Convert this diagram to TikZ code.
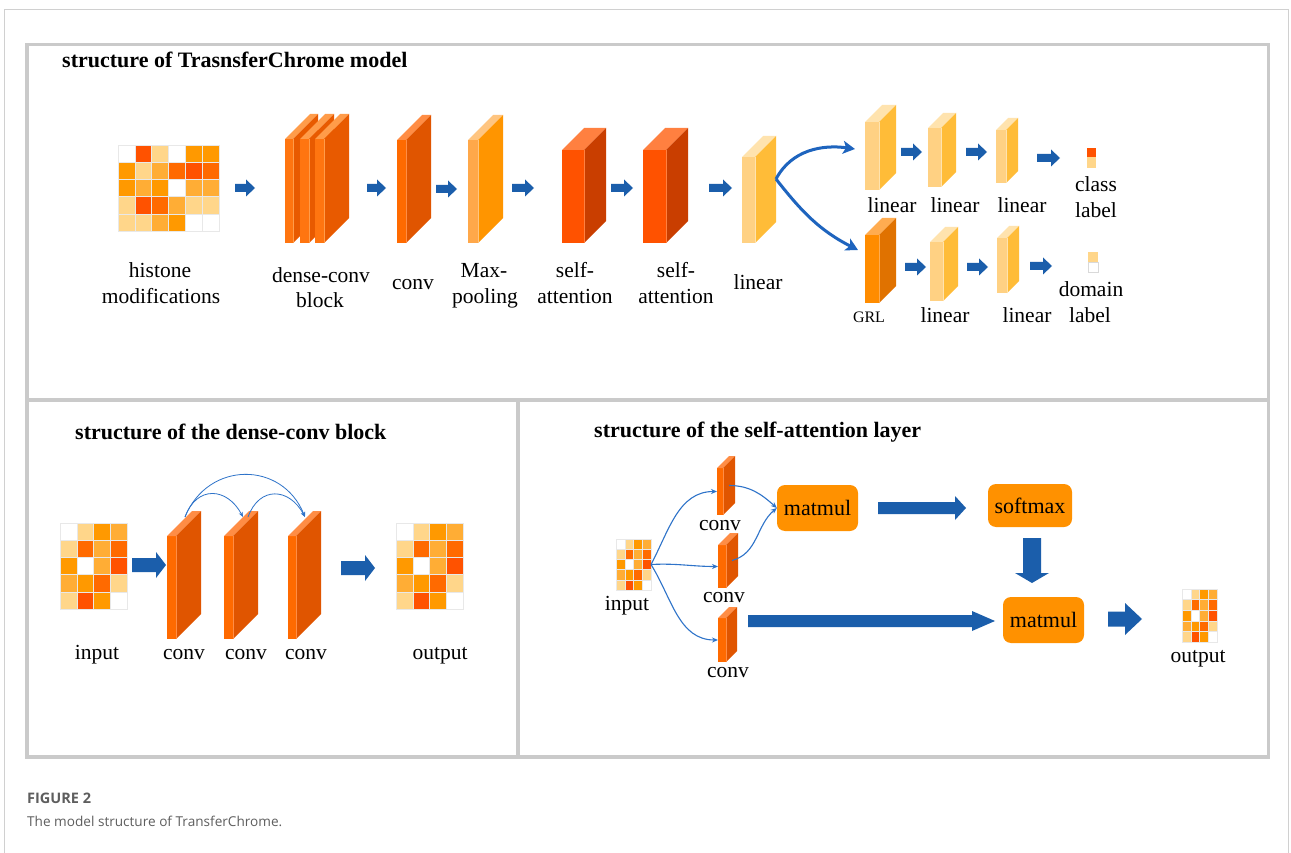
\documentclass[tikz,border=0pt]{standalone}
\usepackage{fontspec}
\setmainfont{Liberation Serif}
\newfontfamily\capfont{Open Sans}
\usetikzlibrary{calc,arrows.meta}

% frame and connector colours
\definecolor{panelgray}{HTML}{CACACA}
\definecolor{cardgray}{HTML}{D0D0D0}
\definecolor{arrowblue}{HTML}{1B5EAB}
\definecolor{linkblue}{HTML}{2E73C9}
\definecolor{branchblue}{HTML}{1E64BE}
\definecolor{boxorange}{HTML}{FF9100}
\definecolor{capgray}{HTML}{5E5E5E}
% layer colours: F = front face, T = top face, S = side face
\definecolor{denseF}{HTML}{FF7510}\definecolor{denseT}{HTML}{FF9C4A}\definecolor{denseS}{HTML}{E85A00}
\definecolor{convF}{HTML}{FF6A00}\definecolor{convT}{HTML}{FF8D45}\definecolor{convS}{HTML}{E05500}
\definecolor{poolF}{HTML}{FFA84A}\definecolor{poolT}{HTML}{FFC580}\definecolor{poolS}{HTML}{FF9500}
\definecolor{attF}{HTML}{FF5200}\definecolor{attT}{HTML}{FF8040}\definecolor{attS}{HTML}{C93E00}
\definecolor{linF}{HTML}{FFD183}\definecolor{linT}{HTML}{FFE3AE}\definecolor{linS}{HTML}{FFBC38}
\definecolor{grlF}{HTML}{FF8C00}\definecolor{grlT}{HTML}{FFAC50}\definecolor{grlS}{HTML}{E07200}
% heat-map cell colours
\definecolor{hmW}{HTML}{FFFFFF}
\definecolor{hmL}{HTML}{FFD68A}
\definecolor{hmM}{HTML}{FFAD35}
\definecolor{hmO}{HTML}{FF9900}
\definecolor{hmR}{HTML}{FF6A00}
\definecolor{hmD}{HTML}{FF5200}

% a 3-D layer block: name, x, y (front top-left), front width, height, depth, colour set
\newcommand\slab[7]{%
  \fill[#7F] (#2,#3) rectangle ({#2+#4},{#3+#5});
  \fill[#7T] (#2,#3) -- ({#2+#4},#3) -- ({#2+#4+#6},{#3-#6}) -- ({#2+#6},{#3-#6}) -- cycle;
  \fill[#7S] ({#2+#4},#3) -- ({#2+#4+#6},{#3-#6}) -- ({#2+#4+#6},{#3+#5-#6}) -- ({#2+#4},{#3+#5}) -- cycle;
  \draw[#7T, line width=0.6pt] ({#2+#4},#3) -- ({#2+#4},{#3+#5});
  \coordinate (#1-w) at (#2,{#3+#5/2});
  \coordinate (#1-e) at ({#2+#4+#6/2},{#3+(#5-#6)/2});
  \coordinate (#1-r) at ({#2+#4+#6},{#3+#5/2-#6});
  \coordinate (#1-top) at ({#2+(#4+#6)/2},{#3-#6/2});
}
% a heat map: name, x, y, cell width, cell height, columns, rows, cell colour rows
\newcommand\heat[8]{%
  \foreach \row [count=\r from 0] in {#8} {
    \foreach \c [count=\k from 0] in \row {
      \path[fill=hm\c, draw=black!9, line width=0.4pt] ({#2+\k*#4},{#3+\r*#5}) rectangle ++(#4,#5);
    }
  }
  \coordinate (#1-e) at ({#2+#6*#4},{#3+#7*#5/2});
}
% block arrows: from, to, shaft half width, head half width, head length
\newcommand\harrow[5]{%
  \fill[arrowblue] ($(#1)+(0,-#3)$) -- ($(#2)+(-#5,-#3)$) -- ($(#2)+(-#5,-#4)$) -- (#2)
    -- ($(#2)+(-#5,#4)$) -- ($(#2)+(-#5,#3)$) -- ($(#1)+(0,#3)$) -- cycle;}
\newcommand\varrow[5]{%
  \fill[arrowblue] ($(#1)+(-#3,0)$) -- ($(#2)+(-#3,-#5)$) -- ($(#2)+(-#4,-#5)$) -- (#2)
    -- ($(#2)+(#4,-#5)$) -- ($(#2)+(#3,-#5)$) -- ($(#1)+(#3,0)$) -- cycle;}

\begin{document}
\begin{tikzpicture}[x=1pt,y=-1pt,
  lbl/.style={font=\fontsize{21.5}{26}\selectfont, inner sep=0pt, anchor=base},
  small/.style={font=\fontsize{16}{19}\selectfont, inner sep=0pt, anchor=base},
  ttl/.style={font=\bfseries\fontsize{22}{26}\selectfont, inner sep=0pt, anchor=base west},
  opbox/.style={fill=boxorange, rounded corners=8pt, inner sep=0pt, font=\fontsize{22}{26}\selectfont},
  panel/.style={draw=panelgray, line width=3.5pt},
  link/.style={draw=linkblue, line width=1.1pt, -{Stealth[length=6pt,width=5pt]}},
  skip/.style={draw=linkblue, line width=0.8pt, -{Stealth[length=5pt,width=4pt]}},
  branch/.style={draw=branchblue, line width=3pt, -{Stealth[length=12pt,width=13pt,inset=3pt]}},
]
\useasboundingbox (0,0) rectangle (1291,853);
\fill[white] (0,0) rectangle (1291,853);

% card outline and panels
\draw[cardgray, line width=1.2pt] (4.5,853) -- (4.5,9.5) -- (1288.5,9.5) -- (1288.5,853);
\draw[panel] (27,44.5) rectangle (1268.5,757);
\draw[panel] (27,400) -- (1268.5,400);
\draw[panel] (518,400) -- (518,757);

% ---------------- TransferChrome model ----------------
\node[ttl] (title1) at (62,68) {structure of TrasnsferChrome model};

\heat{hist}{118}{145}{16.8}{17.2}{6}{5}{{W,D,L,W,O,O},{O,L,M,R,D,R},{O,M,O,W,M,M},{L,D,R,M,L,L},{L,L,M,O,W,W}}
\node[lbl] (histA) at (160,278) {histone};
\node[lbl] (histB) at (161,304) {modifications};

\slab{dc1}{285}{139}{8}{104}{25}{dense}
\slab{dc2}{300}{139}{9}{104}{25}{dense}
\slab{dc3}{315}{139}{9}{104}{25}{dense}
\node[lbl] (dcA) at (321,283) {dense-conv};
\node[lbl] (dcB) at (320,308) {block};

\slab{cv}{397}{140}{9}{103}{25}{conv}
\node[lbl] (cvL) at (413,290) {conv};
\slab{mp}{468}{140}{10}{103}{25}{pool}
\node[lbl] (mpA) at (484,277) {Max-};
\node[lbl] (mpB) at (485,303) {pooling};
\slab{sa1}{562}{150}{22}{93}{22}{att}
\node[lbl] (saA1) at (575,277) {self-};
\node[lbl] (saB1) at (575,303) {attention};
\slab{sa2}{643}{150}{23}{93}{22}{att}
\node[lbl] (saA2) at (676,277) {self-};
\node[lbl] (saB2) at (676,303) {attention};
\slab{lin}{742}{157}{13}{86}{21}{lin}
\node[lbl] (linL) at (758,290) {linear};

% pipeline arrows
\coordinate (p1s) at (235,188); \coordinate (p1e) at (255,188);
\coordinate (p2s) at (367,188); \coordinate (p2e) at (386,188);
\coordinate (p3s) at (436,189); \coordinate (p3e) at (457,189);
\coordinate (p4s) at (512,188); \coordinate (p4e) at (534,188);
\coordinate (p5s) at (611,188); \coordinate (p5e) at (633,188);
\coordinate (p6s) at (709,188); \coordinate (p6e) at (732,188);
\foreach \a in {p1,p2,p3,p4,p5,p6} {\harrow{\a s}{\a e}{4}{8.5}{9}}

% class branch
\coordinate (brU) at (855,149);
\coordinate (brL) at (858,250);
\draw[branch] (lin-r) to[out=62,in=172] (brU);
\draw[branch] (lin-r) to[out=-52,in=153] (brL);

\slab{la}{865}{122}{14}{68}{17}{lin}
\slab{lb}{928}{128}{13}{59}{15}{lin}
\slab{lc}{996}{130}{10}{53}{12}{lin}
\node[lbl] (laL) at (892,213) {linear};
\node[lbl] (lbL) at (955,213) {linear};
\node[lbl] (lcL) at (1022,213) {linear};
\coordinate (u1s) at (901,152); \coordinate (u1e) at (922,152);
\coordinate (u2s) at (966,152); \coordinate (u2e) at (987,152);
\coordinate (u3s) at (1037,158); \coordinate (u3e) at (1060,158);
\foreach \a in {u1,u2,u3} {\harrow{\a s}{\a e}{4}{8.5}{9}}
\fill[hmD] (1087,148) rectangle (1096,157);
\fill[hmL] (1087,157) rectangle (1096,168);
\node[lbl] (clsA) at (1096,192) {class};
\node[lbl] (clsB) at (1096,218) {label};

% domain branch
\slab{grl}{865}{235}{14}{68}{17}{grl}
\slab{ld}{930}{242}{13}{59}{15}{lin}
\slab{le}{997}{238}{10}{55}{12}{lin}
\node[small] (grlL) at (869,322) {GRL};
\node[lbl] (ldL) at (945,322) {linear};
\node[lbl] (leL) at (1027,322) {linear};
\coordinate (d1s) at (905,267); \coordinate (d1e) at (926,267);
\coordinate (d2s) at (967,267); \coordinate (d2e) at (988,267);
\coordinate (d3s) at (1030,266); \coordinate (d3e) at (1052,266);
\foreach \a in {d1,d2,d3} {\harrow{\a s}{\a e}{4}{8.5}{9}}
\fill[hmL] (1088,252) rectangle (1098,262);
\path[fill=white, draw=black!15, line width=0.5pt] (1088,262) rectangle (1098,272);
\node[lbl] (domA) at (1091,297) {domain};
\node[lbl] (domB) at (1090,323) {label};

% ---------------- dense-conv block ----------------
\node[ttl] (title2) at (75,439) {structure of the dense-conv block};
\heat{bin}{60}{523}{16.8}{17.2}{4}{5}{{W,L,O,M},{L,R,M,R},{O,W,M,D},{M,O,R,L},{L,D,O,W}}
\heat{bout}{396}{523}{16.8}{17.2}{4}{5}{{W,L,O,M},{L,R,M,R},{O,W,M,D},{M,O,R,L},{L,D,O,W}}
\slab{bc1}{167}{536}{9}{103}{25}{conv}
\slab{bc2}{224}{536}{9}{103}{25}{conv}
\slab{bc3}{288}{536}{8}{103}{25}{conv}
\coordinate (b1s) at (132,565); \coordinate (b1e) at (166,565);
\coordinate (b2s) at (341,568); \coordinate (b2e) at (375,568);
\harrow{b1s}{b1e}{7}{13}{10}
\harrow{b2s}{b2e}{7}{13}{10}
\coordinate (k1) at (185,517);
\coordinate (k2) at (243,517);
\coordinate (k2s) at (248,517);
\coordinate (k3) at (305,517);
\draw[skip] (k1) to[out=70,in=118,looseness=1.5] (k2);
\draw[skip] (k1) to[out=68,in=112,looseness=1.3] (k3);
\draw[skip] (k2s) to[out=70,in=118,looseness=1.5] (k3);
\node[lbl] (binL) at (97,659) {input};
\node[lbl] (bc1L) at (184,659) {conv};
\node[lbl] (bc2L) at (246,659) {conv};
\node[lbl] (bc3L) at (306,659) {conv};
\node[lbl] (boutL) at (440,659) {output};

% ---------------- self-attention layer ----------------
\node[ttl] (title3) at (594,437) {structure of the self-attention layer};
\heat{sin}{616}{539}{8.75}{10.2}{4}{5}{{W,L,O,M},{L,R,M,R},{O,W,M,D},{M,O,R,L},{L,D,O,W}}
\heat{sout}{1182}{589}{8.75}{10.6}{4}{5}{{W,L,O,M},{L,R,M,R},{O,W,M,D},{M,O,R,L},{L,D,O,W}}
\node[lbl] (sinL) at (627,610) {input};
\node[lbl] (soutL) at (1198,662) {output};

\slab{qa}{717}{468}{6}{47}{12}{conv}
\slab{qb}{718}{545}{8}{43}{12}{conv}
\slab{qc}{718}{618}{8}{44}{11}{conv}
\node[lbl] (qaL) at (720,530) {conv};
\node[lbl] (qbL) at (724,602) {conv};
\node[lbl] (qcL) at (728,677) {conv};

\node[opbox, minimum width=81pt, minimum height=46pt] (mm1) at (817.5,508) {matmul};
\node[opbox, minimum width=84pt, minimum height=43pt] (sm) at (1030,505.5) {softmax};
\node[opbox, minimum width=81pt, minimum height=46pt] (mm2) at (1043.5,620) {matmul};

\draw[link] (sin-e) to[out=62,in=180] (qa-w);
\draw[link] (sin-e) to[out=3,in=180] (qb-w);
\draw[link] (sin-e) to[out=-58,in=180] (qc-w);
\draw[link] (qa-e) to[out=0,in=138] (mm1.west);
\draw[link] (qb-e) to[out=15,in=-140] (mm1.west);

\coordinate (s1s) at (878,508); \coordinate (s1e) at (966,508);
\harrow{s1s}{s1e}{6}{12}{11}
\coordinate (s2s) at (1032,538); \coordinate (s2e) at (1032,583);
\varrow{s2s}{s2e}{9}{17}{10}
\coordinate (s3s) at (748,621); \coordinate (s3e) at (995,621);
\harrow{s3s}{s3e}{6}{10}{23}
\coordinate (s4s) at (1108,619); \coordinate (s4e) at (1142,619);
\harrow{s4s}{s4e}{7.5}{16}{17}

% ---------------- caption ----------------
\node[font=\capfont\bfseries\fontsize{14.5}{18}\selectfont, text=capgray, inner sep=0pt, anchor=base west] (figno) at (27,803) {FIGURE 2};
\node[font=\capfont\fontsize{13.6}{17}\selectfont, text=capgray, inner sep=0pt, anchor=base west] (figcap) at (27,826) {The model structure of TransferChrome.};
\end{tikzpicture}
\end{document}
